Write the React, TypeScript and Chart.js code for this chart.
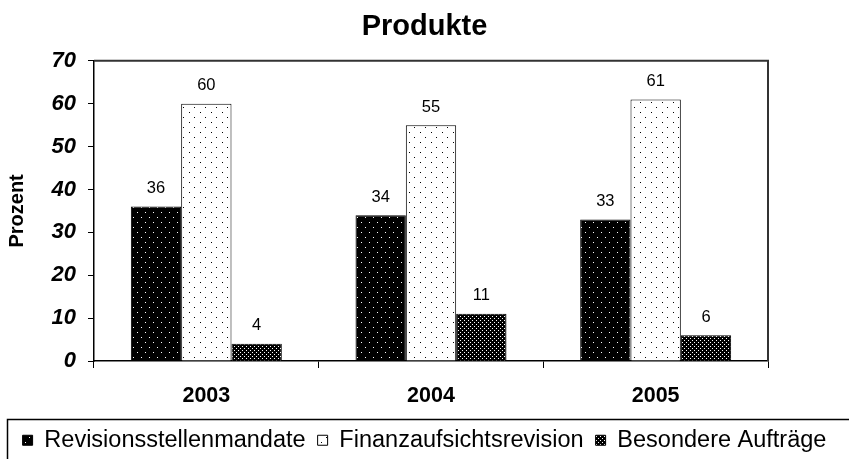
import React, { useEffect, useRef } from "react";
import { Chart, registerables } from "chart.js";

Chart.register(...registerables);

const categories = ["2003", "2004", "2005"];
const seriesNames = ["Revisionsstellenmandate", "Finanzaufsichtsrevision", "Besondere Aufträge"];
const revisionsstellenmandate = [36, 34, 33];
const finanzaufsichtsrevision = [60, 55, 61];
const besondereAuftraege = [4, 11, 6];
const yTicks = [0, 10, 20, 30, 40, 50, 60, 70];

const FONT = "'Liberation Sans', Arial, sans-serif";

function makePattern(
  w: number,
  h: number,
  bg: string,
  fg: string,
  dots: [number, number][]
): CanvasPattern | string {
  const c = document.createElement("canvas");
  c.width = w;
  c.height = h;
  const x = c.getContext("2d");
  if (!x) return bg;
  x.fillStyle = bg;
  x.fillRect(0, 0, w, h);
  x.fillStyle = fg;
  dots.forEach(([dx, dy]) => x.fillRect(dx, dy, 1, 1));
  const p = x.createPattern(c, "repeat");
  return p || bg;
}

export default function App() {
  const ref = useRef<HTMLCanvasElement | null>(null);

  useEffect(() => {
    document.body.style.margin = "0";
    const canvas = ref.current;
    if (!canvas) return;

    const pBlack = makePattern(8, 10, "#000000", "#ffffff", [
      [1, 2],
      [5, 7],
    ]);
    const pWhite = makePattern(11, 10, "#ffffff", "#000000", [
      [2, 2],
      [7, 7],
    ]);
    const pDense = makePattern(4, 4, "#000000", "#ffffff", [
      [0, 0],
      [2, 2],
    ]);

    const valueLabels = {
      id: "valueLabels",
      afterDatasetsDraw(chart: any) {
        const ctx = chart.ctx;
        ctx.save();
        ctx.font = `16.5px ${FONT}`;
        ctx.fillStyle = "#000";
        ctx.textAlign = "center";
        ctx.textBaseline = "middle";
        chart.data.datasets.forEach((ds: any, i: number) => {
          const meta = chart.getDatasetMeta(i);
          meta.data.forEach((bar: any, j: number) => {
            ctx.fillText(String(ds.data[j]), bar.x, bar.y - 18);
          });
        });
        ctx.restore();
      },
    };

    const frames = {
      id: "frames",
      afterDraw(chart: any) {
        const ctx = chart.ctx;
        const a = chart.chartArea;
        ctx.save();
        ctx.strokeStyle = "#333";
        ctx.lineWidth = 2;
        ctx.beginPath();
        ctx.moveTo(a.left, a.top);
        ctx.lineTo(a.right, a.top);
        ctx.lineTo(a.right, a.bottom);
        ctx.stroke();
        const l = chart.legend;
        ctx.strokeStyle = "#000";
        ctx.lineWidth = 1.5;
        ctx.strokeRect(7.5, Math.round(l.top + 2.5) + 0.5, 900, 80);
        ctx.restore();
      },
    };

    const chart = new Chart(canvas, {
      type: "bar",
      data: {
        labels: categories,
        datasets: [
          {
            label: seriesNames[0],
            data: revisionsstellenmandate,
            backgroundColor: pBlack as any,
            borderColor: "#000",
            borderWidth: 1,
          },
          {
            label: seriesNames[1],
            data: finanzaufsichtsrevision,
            backgroundColor: pWhite as any,
            borderColor: "#000",
            borderWidth: 1,
          },
          {
            label: seriesNames[2],
            data: besondereAuftraege,
            backgroundColor: pDense as any,
            borderColor: "#000",
            borderWidth: 1,
          },
        ],
      },
      options: {
        animation: false,
        responsive: false,
        layout: { padding: 0 },
        datasets: {
          bar: { categoryPercentage: 0.672, barPercentage: 1 },
        },
        plugins: {
          tooltip: { enabled: false },
          title: {
            display: true,
            text: "Produkte",
            color: "#000",
            font: { family: FONT, size: 29, weight: "bold" },
            padding: { top: 10, bottom: 16 },
          },
          legend: {
            position: "bottom",
            labels: {
              color: "#000",
              font: { family: FONT, size: 23.5 },
              boxWidth: 10,
              boxHeight: 10,
              padding: 12,
            },
          },
        },
        scales: {
          x: {
            grid: {
              offset: true,
              drawOnChartArea: false,
              drawTicks: true,
              tickLength: 7,
              color: "#000",
            },
            border: { display: true, color: "#000", width: 1.5 },
            ticks: {
              color: "#000",
              font: { family: FONT, size: 21.5, weight: "bold" },
              padding: 15,
              maxRotation: 0,
            },
            afterFit(scale: any) {
              scale.height = 55.5;
            },
          },
          y: {
            min: 0,
            max: 70,
            afterBuildTicks(scale: any) {
              scale.ticks = yTicks.map((v) => ({ value: v }));
            },
            grid: {
              drawOnChartArea: false,
              drawTicks: true,
              tickLength: 6,
              color: "#000",
            },
            border: { display: true, color: "#000", width: 1.5 },
            ticks: {
              color: "#000",
              font: { family: FONT, size: 22, weight: "bold", style: "italic" },
              padding: 12,
            },
            title: {
              display: true,
              text: "Prozent",
              color: "#000",
              font: { family: FONT, size: 20, weight: "bold" },
              padding: { top: 5, bottom: 0 },
            },
            afterFit(scale: any) {
              scale.width = 94;
            },
          },
          yRight: {
            type: "linear",
            position: "right",
            display: true,
            grid: { display: false },
            border: { display: false },
            ticks: { display: false },
            afterFit(scale: any) {
              scale.width = 81;
            },
          },
        },
      } as any,
      plugins: [valueLabels, frames],
    });

    return () => chart.destroy();
  }, []);

  return (
    <div style={{ width: 849, height: 459, overflow: "hidden" }}>
      <canvas ref={ref} width={849} height={462} style={{ display: "block" }} />
    </div>
  );
}
